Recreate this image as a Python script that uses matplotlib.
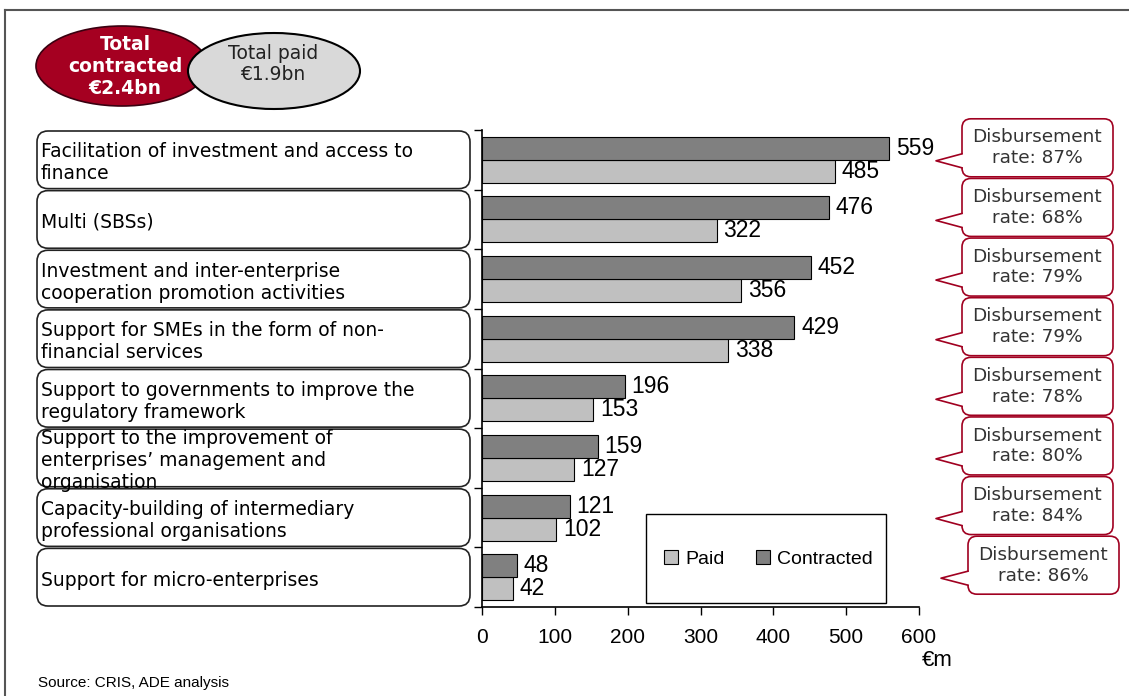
import matplotlib
matplotlib.use("Agg")
import matplotlib.pyplot as plt
import numpy as np
from matplotlib.patches import FancyBboxPatch, Ellipse, Polygon, Rectangle

# chart data
categories = [
    "Facilitation of investment and access to\nfinance",
    "Multi (SBSs)",
    "Investment and inter-enterprise\ncooperation promotion activities",
    "Support for SMEs in the form of non-\nfinancial services",
    "Support to governments to improve the\nregulatory framework",
    "Support to the improvement of\nenterprises\u2019 management and\norganisation",
    "Capacity-building of intermediary\nprofessional organisations",
    "Support for micro-enterprises",
]
contracted = [559, 476, 452, 429, 196, 159, 121, 48]
paid = [485, 322, 356, 338, 153, 127, 102, 42]
rates = [87, 68, 79, 79, 78, 80, 84, 86]
xticks = [0, 100, 200, 300, 400, 500, 600]

W, H = 1129, 696
fig = plt.figure(figsize=(W / 100, H / 100), dpi=100)

# overlay in pixel coordinates for the decorations
ov = fig.add_axes([0, 0, 1, 1])
ov.set_xlim(0, W)
ov.set_ylim(H, 0)
ov.axis("off")

ax = fig.add_axes([482 / W, 1 - 607 / H, 437 / W, 477 / H])
ax.patch.set_visible(False)

y = np.arange(len(categories))
h = 0.386
dark = "#808080"
light = "#c0c0c0"
ax.barh(y + h / 2, paid, height=h, color=light, edgecolor="black", lw=0.8, label="Paid")
ax.barh(y - h / 2, contracted, height=h, color=dark, edgecolor="black", lw=0.8, label="Contracted")

for i in range(len(categories)):
    ax.text(contracted[i] + 9, y[i] - h / 2, str(contracted[i]), va="center", ha="left",
            fontsize=16.5, family="Liberation Sans")
    ax.text(paid[i] + 9, y[i] + h / 2, str(paid[i]), va="center", ha="left",
            fontsize=16.5, family="Liberation Sans")

ax.set_xlim(0, 600)
ax.set_ylim(len(categories) - 0.5, -0.5)
ax.set_xticks(xticks)
ax.set_xticklabels([str(t) for t in xticks], family="Liberation Sans", fontsize=15)
ax.set_yticks(np.arange(-0.5, len(categories), 1.0))
ax.set_yticklabels([])
ax.tick_params(axis="x", direction="out", length=6, pad=9, width=1)
ax.tick_params(axis="y", direction="out", length=6, width=1)
for s in ["top", "right"]:
    ax.spines[s].set_visible(False)
for s in ["left", "bottom"]:
    ax.spines[s].set_linewidth(1.2)

# legend: frame drawn separately so it can be taller than its content
x_to_ax = lambda v: v / 600
ax.add_patch(Rectangle((x_to_ax(225), 0.008), x_to_ax(555 - 225), 0.187,
                       transform=ax.transAxes, facecolor="white", edgecolor="black",
                       lw=1.0, zorder=3))
leg = ax.legend(handles=ax.containers[:], labels=["Paid", "Contracted"], ncol=2,
                loc="center", bbox_to_anchor=(x_to_ax(393), 0.101), frameon=False,
                handlelength=0.75, handleheight=0.75, handletextpad=0.35,
                columnspacing=1.6, prop={"family": "Liberation Sans", "size": 14})
leg.set_zorder(4)

fig.text(922 / W, 1 - 661 / H, "\u20acm", family="Liberation Sans", fontsize=16, va="center")


def to_px(xv, yv):
    dx, dy = ax.transData.transform((xv, yv))
    return dx, H - dy


# frame
ov.plot([5, 5], [H, 10], color="#555555", lw=1.5)
ov.plot([5, W], [10, 10], color="#555555", lw=1.5)

# totals ellipses
ov.add_patch(Ellipse((122, 66), 172, 80, facecolor="#a50021", edgecolor="#3a0010", lw=1.2))
ov.add_patch(Ellipse((274, 71), 172, 76, facecolor="#d9d9d9", edgecolor="black", lw=1.5))
ov.text(125, 67, "Total\ncontracted\n\u20ac2.4bn", color="white", fontweight="bold",
        ha="center", va="center", fontsize=13.5, family="DejaVu Sans", linespacing=1.2)
ov.text(273, 64, "Total paid\n\u20ac1.9bn", color="#222222", ha="center", va="center",
        fontsize=13.5, family="DejaVu Sans", linespacing=1.15)

# category boxes on the left
for i, lab in enumerate(categories):
    _, top = to_px(0, i - 0.5)
    _, bot = to_px(0, i + 0.5)
    _, mid = to_px(0, i)
    ov.add_patch(FancyBboxPatch((37, top + 1), 433, bot - top - 2,
                                boxstyle="round,pad=0,rounding_size=11",
                                facecolor="white", edgecolor="#222222", lw=1.2))
    ov.text(41, mid + 3, lab, ha="left", va="center", fontsize=13.5,
            family="DejaVu Sans", linespacing=1.2)

# disbursement rate callouts
red = "#a00020"
for i, r in enumerate(rates):
    _, mid = to_px(0, i)
    x0 = 962 if i < len(rates) - 1 else 968
    bw = 151
    bh = 58
    btop = mid - 41
    tip = (936 if i < len(rates) - 1 else 941, mid + 1)
    ov.add_patch(FancyBboxPatch((x0, btop), bw, bh, boxstyle="round,pad=0,rounding_size=9",
                                facecolor="white", edgecolor=red, lw=1.2))
    ov.add_patch(Polygon([(x0 + 1.5, tip[1] - 7), tip, (x0 + 1.5, tip[1] + 7)],
                         closed=True, facecolor="white", edgecolor="none"))
    ov.plot([x0, tip[0], x0], [tip[1] - 7, tip[1], tip[1] + 7], color=red, lw=1.2)
    ov.text(x0 + bw / 2, btop + bh / 2, "Disbursement\nrate: %d%%" % r, ha="center",
            va="center", fontsize=13.3, color="#333333", family="DejaVu Sans",
            linespacing=1.2)

fig.text(38 / W, 1 - 683 / H, "Source: CRIS, ADE analysis", family="Liberation Sans",
         fontsize=11, va="center")

fig.savefig("out.png", dpi=100)
